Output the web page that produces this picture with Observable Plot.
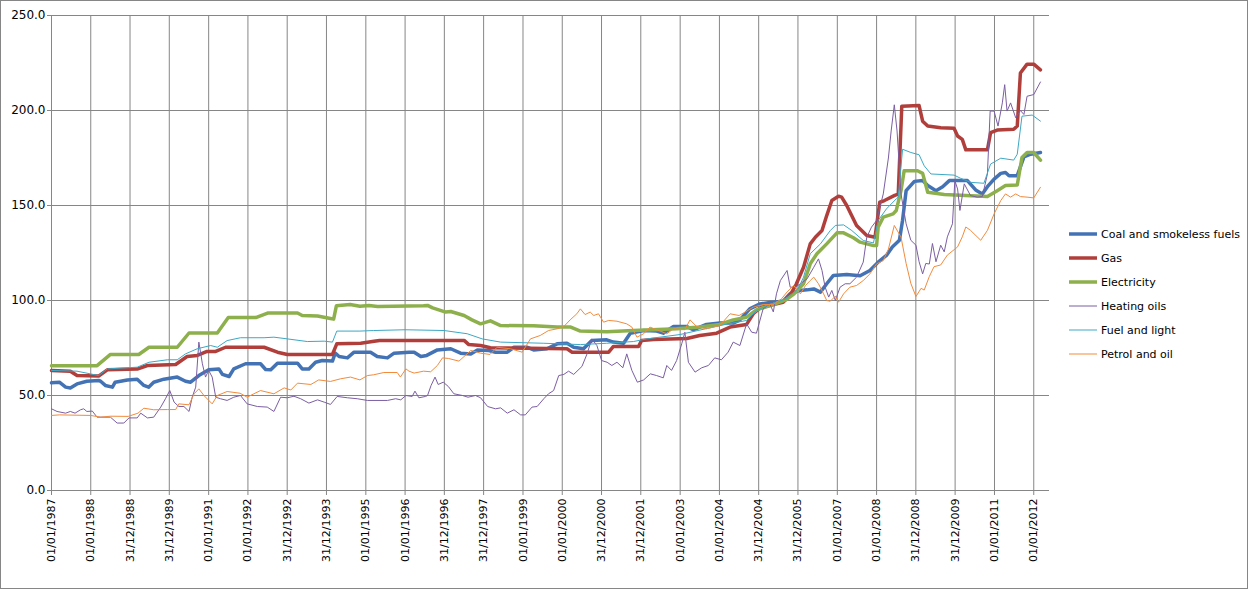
<!DOCTYPE html>
<html>
<head>
<meta charset="utf-8">
<script src="https://cdn.jsdelivr.net/npm/d3@7"></script>
<script src="https://cdn.jsdelivr.net/npm/@observablehq/plot@0.6"></script>
<style>
  html, body { margin: 0; padding: 0; background: #fff; }
  #wrap { position: relative; width: 1248px; height: 589px; overflow: hidden; background: #fff; }
  #frame { position: absolute; left: 0; top: 0; width: 1246px; height: 587px; border: 1px solid #868686; pointer-events: none; }
  #legend { position: absolute; left: 1069px; top: 222px; font-family: "DejaVu Sans", sans-serif; font-size: 11px; color: #000; }
  .row { height: 24px; display: flex; align-items: center; white-space: nowrap; }
  .row svg { margin-right: 3px; }
</style>
</head>
<body>
<div id="wrap"><div id="chart"></div><div id="legend"></div><div id="frame"></div></div>
<script>
// ---- data (decimal year, index value) ----
const tickLabels = ["01/01/1987","01/01/1988","31/12/1988","31/12/1989","01/01/1991","01/01/1992","31/12/1992","31/12/1993","01/01/1995","01/01/1996","31/12/1996","31/12/1997","01/01/1999","01/01/2000","31/12/2000","31/12/2001","01/01/2003","01/01/2004","31/12/2004","31/12/2005","01/01/2007","01/01/2008","31/12/2008","31/12/2009","01/01/2011","01/01/2012"];
const yTicks = [0, 50, 100, 150, 200, 250];
const seriesNames = ["Coal and smokeless fuels","Gas","Electricity","Heating oils","Fuel and light","Petrol and oil"];

const coal = [[1987.0,56.7],[1987.2,57.0],[1987.36,54.4],[1987.48,54.0],[1987.65,56.1],[1987.9,57.5],[1988.2,57.9],[1988.25,57.5],[1988.37,55.3],[1988.55,54.4],[1988.62,57.0],[1988.93,58.2],[1989.18,58.6],[1989.35,55.3],[1989.47,54.4],[1989.6,57.0],[1989.86,58.6],[1990.2,59.7],[1990.41,57.5],[1990.54,57.0],[1990.75,60.5],[1991.0,63.5],[1991.26,64.0],[1991.35,61.1],[1991.52,60.0],[1991.64,64.0],[1991.94,66.7],[1992.32,66.7],[1992.45,63.7],[1992.58,63.5],[1992.75,67.0],[1993.26,67.0],[1993.38,64.0],[1993.55,64.0],[1993.72,67.5],[1993.89,68.4],[1994.15,68.1],[1994.22,72.3],[1994.32,70.5],[1994.53,69.8],[1994.7,72.8],[1995.12,72.8],[1995.29,70.5],[1995.55,69.8],[1995.72,72.3],[1996.1,72.8],[1996.23,72.8],[1996.4,70.5],[1996.55,71.1],[1996.82,74.0],[1997.16,74.6],[1997.41,72.3],[1997.67,71.9],[1997.84,74.0],[1998.13,73.7],[1998.3,72.8],[1998.6,72.8],[1998.77,75.4],[1999.1,75.4],[1999.27,74.0],[1999.61,74.6],[1999.87,77.2],[2000.12,77.5],[2000.29,75.4],[2000.54,74.6],[2000.75,79.0],[2001.13,79.3],[2001.3,78.1],[2001.56,77.5],[2001.73,82.8],[2002.07,84.2],[2002.4,83.9],[2002.57,82.8],[2002.83,86.3],[2003.17,86.3],[2003.33,84.6],[2003.67,87.4],[2004.01,88.1],[2004.35,88.1],[2004.52,89.8],[2004.77,95.6],[2005.03,98.2],[2005.28,98.9],[2005.62,99.6],[2005.79,103.5],[2006.04,105.3],[2006.23,105.6],[2006.4,106.1],[2006.57,104.4],[2006.73,108.8],[2006.9,113.2],[2007.24,113.7],[2007.58,113.0],[2007.83,115.8],[2008.04,120.2],[2008.25,123.7],[2008.4,128.2],[2008.58,131.7],[2008.66,142.2],[2008.75,157.8],[2008.96,162.7],[2009.17,163.1],[2009.3,160.5],[2009.51,157.8],[2009.68,159.9],[2009.85,163.1],[2010.31,163.1],[2010.52,158.2],[2010.69,156.1],[2010.82,159.9],[2010.99,163.9],[2011.16,166.9],[2011.28,167.4],[2011.37,165.7],[2011.58,165.7],[2011.75,175.6],[2011.92,177.0],[2012.17,177.9]];

const gas = [[1987.0,63.2],[1987.48,62.8],[1987.65,60.5],[1988.2,60.2],[1988.42,63.5],[1989.18,63.9],[1989.44,65.8],[1990.16,66.3],[1990.45,70.5],[1990.71,71.1],[1990.96,73.2],[1991.18,73.2],[1991.43,75.4],[1992.41,75.4],[1992.75,72.8],[1993.0,71.6],[1994.15,71.6],[1994.26,77.2],[1994.87,77.5],[1995.21,78.6],[1995.35,79.0],[1997.5,79.0],[1997.62,76.8],[1997.92,76.3],[1998.17,75.1],[2000.12,74.6],[2000.25,72.8],[2001.18,72.8],[2001.3,75.8],[2001.94,75.8],[2002.02,79.0],[2002.32,79.5],[2003.17,80.0],[2003.5,81.6],[2003.93,82.8],[2004.27,86.0],[2004.69,87.4],[2004.86,93.0],[2005.03,96.1],[2005.37,97.9],[2005.62,99.1],[2005.79,102.6],[2005.95,108.4],[2006.14,117.5],[2006.31,129.8],[2006.44,133.3],[2006.61,136.8],[2006.73,144.7],[2006.86,152.6],[2007.03,154.9],[2007.11,154.4],[2007.24,150.0],[2007.49,139.5],[2007.75,134.2],[2007.96,133.3],[2008.04,145.6],[2008.08,151.7],[2008.2,152.6],[2008.46,155.3],[2008.55,156.0],[2008.64,202.3],[2009.08,202.6],[2009.17,194.4],[2009.3,191.8],[2009.63,190.9],[2009.97,190.6],[2010.06,186.6],[2010.18,184.8],[2010.27,179.3],[2010.82,179.3],[2010.9,188.3],[2011.07,189.7],[2011.49,190.1],[2011.58,191.8],[2011.66,219.7],[2011.83,224.4],[2012.0,224.4],[2012.17,221.4]];

const electricity = [[1987.0,65.7],[1988.16,65.7],[1988.5,71.6],[1989.22,71.6],[1989.48,75.4],[1990.2,75.4],[1990.5,82.9],[1991.22,82.9],[1991.5,91.0],[1992.2,91.0],[1992.5,93.4],[1993.26,93.4],[1993.38,92.1],[1993.77,91.8],[1994.1,90.5],[1994.18,90.2],[1994.25,97.2],[1994.6,97.9],[1994.85,97.0],[1995.08,97.4],[1995.3,96.9],[1996.47,97.2],[1996.57,97.4],[1996.7,96.1],[1997.03,93.9],[1997.16,94.2],[1997.5,92.1],[1997.7,89.8],[1997.92,87.7],[1998.17,89.3],[1998.43,86.8],[1999.27,86.7],[1999.87,86.1],[2000.2,86.1],[2000.46,83.9],[2001.13,83.5],[2001.81,84.2],[2002.91,85.1],[2003.5,86.0],[2004.0,87.4],[2004.35,89.8],[2004.69,91.2],[2004.94,95.1],[2005.37,97.9],[2005.7,100.5],[2005.9,103.5],[2006.14,108.8],[2006.31,119.3],[2006.48,124.6],[2006.73,129.8],[2006.99,135.6],[2007.16,135.6],[2007.41,133.0],[2007.58,130.7],[2007.92,128.9],[2008.0,128.9],[2008.04,138.6],[2008.17,143.9],[2008.42,145.6],[2008.5,147.4],[2008.62,157.8],[2008.7,168.3],[2009.04,168.3],[2009.17,166.9],[2009.3,157.0],[2009.72,155.8],[2010.82,154.7],[2011.07,157.8],[2011.28,160.5],[2011.58,160.8],[2011.7,175.3],[2011.83,177.9],[2012.0,177.9],[2012.17,173.9]];

const heatingOils = [[1987.0,43.0],[1987.14,41.6],[1987.36,40.7],[1987.48,41.6],[1987.6,40.7],[1987.74,42.5],[1987.82,43.0],[1987.9,41.6],[1988.04,41.8],[1988.16,38.6],[1988.5,38.6],[1988.67,35.5],[1988.84,35.5],[1988.97,38.2],[1989.18,38.2],[1989.27,40.7],[1989.44,38.2],[1989.6,38.6],[1989.78,43.9],[1989.9,48.3],[1990.01,52.6],[1990.12,46.5],[1990.24,44.2],[1990.37,44.2],[1990.5,41.6],[1990.58,49.1],[1990.67,54.4],[1990.75,78.1],[1990.84,66.7],[1990.92,59.7],[1991.0,63.2],[1991.09,59.7],[1991.18,49.1],[1991.3,48.3],[1991.47,47.4],[1991.64,49.1],[1991.81,50.0],[1991.98,45.6],[1992.24,44.2],[1992.49,43.9],[1992.66,41.6],[1992.83,49.1],[1993.0,48.8],[1993.17,49.6],[1993.34,48.3],[1993.55,46.0],[1993.77,47.7],[1993.94,46.5],[1994.1,45.3],[1994.27,49.5],[1994.53,48.8],[1994.78,48.3],[1995.04,47.4],[1995.55,47.4],[1995.76,48.3],[1995.89,47.7],[1996.02,50.0],[1996.18,49.5],[1996.25,52.3],[1996.35,48.8],[1996.52,49.5],[1996.57,50.0],[1996.66,55.3],[1996.76,59.7],[1996.84,55.8],[1996.97,57.0],[1997.1,54.7],[1997.24,50.9],[1997.46,50.0],[1997.6,49.1],[1997.79,50.0],[1997.92,48.8],[1998.1,44.2],[1998.3,43.0],[1998.43,43.5],[1998.6,40.7],[1998.77,42.5],[1998.94,39.8],[1999.06,39.8],[1999.23,43.9],[1999.36,44.2],[1999.53,48.3],[1999.65,50.9],[1999.78,52.6],[1999.91,60.5],[2000.04,61.1],[2000.16,62.8],[2000.29,61.1],[2000.5,65.3],[2000.63,71.9],[2000.75,79.8],[2000.88,76.3],[2001.0,68.4],[2001.14,67.5],[2001.26,65.8],[2001.39,67.5],[2001.54,64.6],[2001.64,71.9],[2001.77,63.2],[2001.91,57.0],[2002.07,58.2],[2002.24,61.4],[2002.4,60.5],[2002.57,59.3],[2002.66,65.8],[2002.78,63.2],[2002.91,68.4],[2003.04,77.2],[2003.12,83.3],[2003.21,67.5],[2003.38,62.3],[2003.55,64.6],[2003.72,65.8],[2003.88,69.8],[2004.05,68.8],[2004.22,72.8],[2004.35,78.1],[2004.52,76.3],[2004.69,87.7],[2004.82,83.3],[2004.94,82.8],[2005.11,95.6],[2005.28,98.2],[2005.37,94.0],[2005.45,103.5],[2005.55,110.5],[2005.72,115.8],[2005.8,107.0],[2005.93,107.0],[2006.06,108.8],[2006.23,111.4],[2006.4,117.5],[2006.52,121.9],[2006.61,115.8],[2006.69,107.0],[2006.78,101.8],[2006.86,105.3],[2006.95,100.0],[2007.07,107.0],[2007.2,108.8],[2007.32,108.8],[2007.49,112.3],[2007.66,120.2],[2007.75,133.3],[2007.87,138.6],[2008.0,142.1],[2008.17,156.1],[2008.3,175.0],[2008.37,189.2],[2008.45,203.0],[2008.52,189.2],[2008.62,156.1],[2008.75,140.4],[2008.87,131.7],[2009.0,129.1],[2009.08,120.4],[2009.17,114.0],[2009.25,119.5],[2009.34,119.2],[2009.42,130.0],[2009.51,120.4],[2009.63,129.1],[2009.72,125.6],[2009.8,133.5],[2009.93,140.4],[2009.99,163.1],[2010.06,158.7],[2010.12,147.4],[2010.23,161.4],[2010.39,155.2],[2010.56,154.4],[2010.69,154.7],[2010.82,166.6],[2010.89,199.7],[2010.99,199.7],[2011.09,191.8],[2011.2,204.0],[2011.26,213.6],[2011.32,199.7],[2011.41,204.0],[2011.54,196.2],[2011.66,200.0],[2011.75,197.9],[2011.83,207.5],[2012.0,208.4],[2012.17,215.0]];

const fuelAndLight = [[1987.0,63.2],[1987.65,62.8],[1988.2,60.5],[1988.42,64.0],[1989.18,64.9],[1989.48,67.5],[1989.95,68.8],[1990.2,68.8],[1990.41,71.9],[1990.71,74.6],[1991.05,76.3],[1991.22,75.4],[1991.47,78.9],[1991.81,80.4],[1992.41,80.4],[1992.66,80.7],[1993.0,79.8],[1993.51,78.4],[1993.94,78.6],[1994.15,78.1],[1994.26,83.9],[1994.85,83.9],[1995.2,84.2],[1996.0,84.6],[1996.99,84.2],[1997.58,82.5],[1997.96,79.8],[1998.43,78.1],[1999.53,77.5],[2000.46,76.8],[2001.13,77.5],[2001.81,78.4],[2002.15,79.8],[2003.0,82.1],[2004.01,86.8],[2004.69,89.5],[2004.94,94.7],[2005.28,97.9],[2005.7,100.9],[2006.0,106.1],[2006.14,112.3],[2006.31,124.6],[2006.57,129.8],[2006.82,136.8],[2006.95,139.5],[2007.16,139.8],[2007.37,136.8],[2007.66,131.6],[2007.92,130.3],[2008.04,142.1],[2008.25,148.2],[2008.5,153.5],[2008.55,154.4],[2008.66,179.6],[2008.87,177.9],[2009.08,176.7],[2009.21,170.9],[2009.38,166.6],[2009.97,166.0],[2010.14,164.3],[2010.39,162.2],[2010.73,161.7],[2010.9,171.8],[2011.16,174.9],[2011.49,173.9],[2011.58,177.0],[2011.7,197.0],[2011.96,197.6],[2012.17,194.4]];

const petrolAndOil = [[1987.0,39.5],[1987.2,39.8],[1988.0,39.5],[1988.25,38.6],[1988.5,39.1],[1988.95,39.0],[1989.2,40.7],[1989.35,43.3],[1989.6,42.5],[1989.95,42.6],[1990.16,42.6],[1990.24,45.6],[1990.5,45.1],[1990.63,50.9],[1990.75,53.5],[1990.88,50.0],[1991.09,45.6],[1991.22,50.0],[1991.47,52.1],[1991.8,51.2],[1991.98,49.1],[1992.15,50.9],[1992.32,52.6],[1992.66,50.9],[1992.92,54.0],[1993.09,52.9],[1993.26,56.5],[1993.6,55.8],[1993.8,58.2],[1994.1,57.4],[1994.36,58.8],[1994.61,59.7],[1994.85,58.2],[1995.04,60.5],[1995.2,60.9],[1995.46,62.1],[1995.8,62.1],[1995.88,59.7],[1996.02,64.0],[1996.1,62.8],[1996.23,61.8],[1996.47,62.8],[1996.65,62.5],[1996.82,65.8],[1996.95,69.8],[1997.1,69.5],[1997.37,68.1],[1997.67,73.7],[1997.92,72.3],[1998.16,71.6],[1998.34,75.4],[1998.68,74.6],[1998.98,72.8],[1999.19,79.8],[1999.44,81.6],[1999.65,84.2],[1999.87,85.1],[2000.04,86.3],[2000.2,89.8],[2000.37,93.0],[2000.46,95.6],[2000.58,92.6],[2000.71,93.9],[2000.8,92.1],[2000.92,93.0],[2001.05,88.6],[2001.18,89.5],[2001.39,89.1],[2001.64,87.7],[2001.77,86.0],[2001.9,80.7],[2002.07,82.5],[2002.23,86.0],[2002.49,83.9],[2002.66,82.5],[2002.83,85.1],[2003.12,84.6],[2003.25,89.8],[2003.42,86.3],[2003.67,85.1],[2004.01,86.8],[2004.27,93.0],[2004.5,92.1],[2004.65,93.9],[2004.86,96.5],[2005.11,97.9],[2005.37,97.9],[2005.58,100.9],[2005.72,104.5],[2005.89,107.9],[2006.06,103.5],[2006.19,107.9],[2006.31,110.5],[2006.4,112.3],[2006.52,108.8],[2006.65,103.5],[2006.73,100.0],[2006.82,99.6],[2006.95,102.3],[2007.03,99.1],[2007.16,103.5],[2007.32,107.0],[2007.49,107.9],[2007.66,110.5],[2007.83,114.0],[2008.0,119.3],[2008.17,121.0],[2008.3,127.0],[2008.45,139.5],[2008.62,133.4],[2008.75,119.5],[2008.87,109.0],[2009.0,102.1],[2009.13,106.4],[2009.21,105.5],[2009.34,112.6],[2009.46,117.8],[2009.63,118.7],[2009.8,123.9],[2010.06,128.2],[2010.18,133.5],[2010.27,138.7],[2010.39,136.9],[2010.65,131.7],[2010.82,136.9],[2010.99,145.6],[2011.16,152.6],[2011.28,156.1],[2011.41,154.4],[2011.54,156.1],[2011.66,154.7],[2011.83,154.4],[2012.0,154.0],[2012.17,159.6]];

const seriesData = [coal, gas, electricity, heatingOils, fuelAndLight, petrolAndOil];

// ---- styles ----
const seriesColors = ["#4373B4", "#B03F3B", "#8DB04C", "#7B5EA3", "#3CA8C5", "#F28B3C"];
const seriesWidths = [3.5, 3.5, 3.5, 1, 1, 1];

// ---- helpers ----
function toDate(y) {
  const yr = Math.floor(y);
  const s = Date.UTC(yr, 0, 1), e = Date.UTC(yr + 1, 0, 1);
  return new Date(s + (y - yr) * (e - s));
}
function parseLabel(s) {
  const [d, m, y] = s.split("/").map(Number);
  return new Date(Date.UTC(y, m - 1, d));
}
const tickDates = tickLabels.map(parseLabel);
const labelByTime = new Map(tickDates.map((d, i) => [d.getTime(), tickLabels[i]]));

const grid = "#868686";

const lineMarks = seriesData.map((s, i) =>
  Plot.line(s.map(([y, v]) => ({date: toDate(y), value: v})), {
    x: "date", y: "value", stroke: seriesColors[i], strokeWidth: seriesWidths[i],
    strokeLinejoin: "round", strokeLinecap: "round", curve: "linear"
  })
);

const chart = Plot.plot({
  width: 1248, height: 589,
  marginLeft: 51, marginRight: 199, marginTop: 15, marginBottom: 99,
  style: {fontFamily: "DejaVu Sans, sans-serif", fontSize: "11px", color: "#000", background: "transparent"},
  x: {type: "utc", domain: [new Date(Date.UTC(1987, 0, 1)), toDate(2012.4)]},
  y: {domain: [0, 250]},
  marks: [
    Plot.gridY(yTicks, {stroke: grid, strokeOpacity: 1}),
    Plot.gridX(tickDates, {stroke: grid, strokeOpacity: 1}),
    Plot.axisY(yTicks, {tickSize: 4, tickPadding: 2, tickFormat: d3.format(".1f"), stroke: grid, fill: "#000", fontSize: 12, label: null}),
    Plot.axisX(tickDates, {tickSize: 5, tickPadding: 3, tickRotate: -90, tickFormat: d => labelByTime.get(d.getTime()), stroke: grid, fill: "#000", fontSize: 11, label: null}),
    ...lineMarks
  ]
});
document.getElementById("chart").appendChild(chart);

// ---- legend ----
const legend = document.getElementById("legend");
seriesNames.forEach((name, i) => {
  const row = document.createElement("div");
  row.className = "row";
  row.innerHTML = `<svg width="29" height="8"><line x1="0" y1="4" x2="28" y2="4" stroke="${seriesColors[i]}" stroke-width="${seriesWidths[i]}"/></svg><span>${name}</span>`;
  legend.appendChild(row);
});
</script>
</body>
</html>
